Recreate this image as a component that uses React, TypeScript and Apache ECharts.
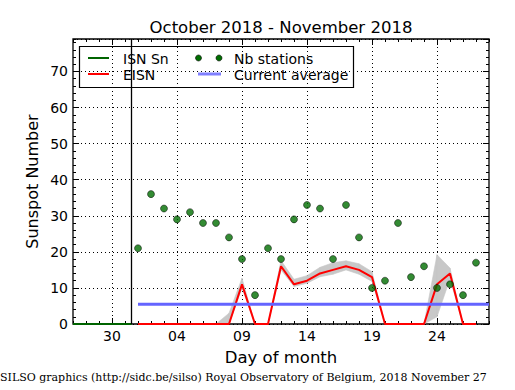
import React, { useEffect, useRef } from "react";
import * as echarts from "echarts";

// x values are day numbers counted from 1 October (Nov d -> 31 + d)
const OCT_LEN = 31;
const novDays = [1, 2, 3, 4, 5, 6, 7, 8, 9, 10, 11, 12, 13, 14, 15, 16, 17, 18, 19, 20, 21, 22, 23, 24, 25, 26, 27];
const nbStations = [21, 36, 32, 29, 31, 28, 28, 24, 18, 8, 21, 18, 29, 33, 32, 18, 33, 24, 10, 12, 28, 13, 16, 10, 11, 8, 17];
const eisn = [0, 0, 0, 0, 0, 0, 0, 0, 11, 0, 0, 16, 11, 12, 14, 15, 16, 15, 13, 0, 0, 0, 0, 11, 14, 0, 0];
const bandLow = [0, 0, 0, 0, 0, 0, 0, 0, 10, 0, 0, 15, 10.4, 11.3, 13.1, 13.8, 15, 13.8, 11.8, 0, 0, 0, 0, 2, 12.5, 0, 0];
const bandHigh = [0, 0, 0, 0, 0, 0, 0, 3, 12.7, 0, 0, 17.6, 12.4, 13.4, 15.7, 17, 17.5, 16.7, 14.5, 0, 0, 0, 0, 19.2, 15.5, 0, 0];
const isnX = [27, 28, 29, 30, 31, 31.5];
const isnVals = [0, 0, 0, 0, 0, 0];
const currentAverage = 5.5;
const avgRange = [32, 59];
const monthBoundary = 31.5;
const xMin = 27;
const xMax = 59;
const yMin = 0;
const yMax = 79;
const xTickValues = [30, 35, 40, 45, 50, 55];

const FONT = "DejaVu Sans";

export default function App() {
  const ref = useRef<HTMLDivElement>(null);
  useEffect(() => {
    if (!ref.current) return;
    const chart = echarts.init(ref.current, undefined, { renderer: "svg" });
    const xs = novDays.map((d) => OCT_LEN + d);
    const fmt = (v: number) => {
      const d = v > OCT_LEN ? v - OCT_LEN : v;
      return d < 10 ? "0" + d : String(d);
    };
    const bandSegments = xs.slice(0, -1).map((x, i) => [
      x,
      bandLow[i],
      bandHigh[i],
      xs[i + 1],
      bandLow[i + 1],
      bandHigh[i + 1],
    ]);
    const gridLine = { show: true, lineStyle: { color: "#000", width: 1, type: [1, 3] } };
    const baseX = {
      type: "value",
      min: xMin,
      max: xMax,
      axisLine: { show: false, onZero: false },
      splitLine: { show: false },
      axisLabel: { show: false },
    };
    const baseY = {
      type: "value",
      min: yMin,
      max: yMax,
      axisLine: { show: false, onZero: false },
      splitLine: { show: false },
      axisLabel: { show: false },
    };
    const option: any = {
      animation: false,
      grid: {
        left: 73,
        right: 26,
        top: 39,
        bottom: 66,
        show: true,
        borderColor: "#000",
        borderWidth: 1.3,
        backgroundColor: "#fff",
      },
      xAxis: [
        {
          ...baseX,
          position: "bottom",
          axisTick: { show: true, inside: true, length: 6, customValues: xTickValues, lineStyle: { color: "#000" } },
          axisLabel: {
            show: true,
            customValues: xTickValues,
            formatter: (v: number) => fmt(v),
            color: "#000",
            fontFamily: FONT,
            fontSize: 14,
            margin: 5,
          },
          splitLine: gridLine,
        },
        {
          ...baseX,
          position: "bottom",
          interval: 1,
          axisTick: { show: true, inside: true, length: 3, lineStyle: { color: "#000" } },
        },
        {
          ...baseX,
          position: "top",
          axisTick: { show: true, inside: true, length: 6, customValues: xTickValues, lineStyle: { color: "#000" } },
        },
        {
          ...baseX,
          position: "top",
          interval: 1,
          axisTick: { show: true, inside: true, length: 3, lineStyle: { color: "#000" } },
        },
      ],
      yAxis: [
        {
          ...baseY,
          position: "left",
          interval: 10,
          axisTick: { show: true, inside: true, length: 6, lineStyle: { color: "#000" } },
          axisLabel: {
            show: true,
            showMaxLabel: false,
            color: "#000",
            fontFamily: FONT,
            fontSize: 14,
            margin: 5,
          },
          splitLine: gridLine,
        },
        {
          ...baseY,
          position: "left",
          interval: 2,
          axisTick: { show: true, inside: true, length: 3, lineStyle: { color: "#000" } },
        },
        {
          ...baseY,
          position: "right",
          interval: 10,
          axisTick: { show: true, inside: true, length: 6, lineStyle: { color: "#000" } },
        },
        {
          ...baseY,
          position: "right",
          interval: 2,
          axisTick: { show: true, inside: true, length: 3, lineStyle: { color: "#000" } },
        },
      ],
      series: [
        {
          name: "band",
          type: "custom",
          silent: true,
          clip: true,
          z: 2,
          dimensions: ["x0", "lo0", "hi0", "x1", "lo1", "hi1"],
          encode: { x: [0, 3], y: [1, 2, 4, 5] },
          data: bandSegments,
          renderItem: (params: any, api: any) => {
            const x0 = api.value(0);
            const x1 = api.value(3);
            const pts = [
              api.coord([x0, api.value(1)]),
              api.coord([x1, api.value(4)]),
              api.coord([x1, api.value(5)]),
              api.coord([x0, api.value(2)]),
            ];
            return {
              type: "polygon",
              shape: { points: pts },
              style: { fill: "#c8c8c8", stroke: "#c8c8c8", lineWidth: 0.6 },
            };
          },
        },
        {
          name: "ISN Sn",
          type: "line",
          symbol: "none",
          lineStyle: { color: "#006400", width: 2 },
          data: isnX.map((x, i) => [x, isnVals[i]]),
          z: 3,
        },
        {
          name: "EISN",
          type: "line",
          symbol: "none",
          lineStyle: { color: "#ff0000", width: 2 },
          data: xs.map((x, i) => [x, eisn[i]]),
          z: 4,
        },
        {
          name: "Current average",
          type: "line",
          symbol: "none",
          lineStyle: { color: "#6464ff", width: 3 },
          data: avgRange.map((x) => [x, currentAverage]),
          z: 5,
        },
        {
          name: "Nb stations",
          type: "scatter",
          symbol: "circle",
          symbolSize: 7,
          itemStyle: { color: "#006e00", borderColor: "#000", borderWidth: 0.6 },
          data: xs.map((x, i) => [x, nbStations[i]]),
          z: 6,
        },
        {
          name: "boundary",
          type: "line",
          symbol: "none",
          lineStyle: { color: "#000", width: 1.3 },
          data: [
            [monthBoundary, yMin],
            [monthBoundary, yMax],
          ],
          z: 6,
          silent: true,
        },
      ],
      graphic: [
        {
          type: "text",
          style: {
            text: "October 2018 - November 2018",
            x: 281,
            y: 27,
            align: "center",
            verticalAlign: "middle",
            font: `16.5px "${FONT}"`,
            fill: "#000",
          },
        },
        {
          type: "text",
          style: {
            text: "Day of month",
            x: 281,
            y: 357,
            align: "center",
            verticalAlign: "middle",
            font: `16.5px "${FONT}"`,
            fill: "#000",
          },
        },
        {
          type: "text",
          x: 32.5,
          y: 181.5,
          rotation: Math.PI / 2,
          style: {
            text: "Sunspot Number",
            x: 0,
            y: 0,
            align: "center",
            verticalAlign: "middle",
            font: `16px "${FONT}"`,
            fill: "#000",
          },
        },
        {
          type: "text",
          style: {
            text: "SILSO graphics (http://sidc.be/silso) Royal Observatory of Belgium, 2018 November 27",
            x: 0,
            y: 377,
            align: "left",
            verticalAlign: "middle",
            font: `11px "DejaVu Serif"`,
            fill: "#000",
          },
        },
        {
          type: "group",
          z: 100,
          children: [
            {
              type: "rect",
              shape: { x: 79.5, y: 46.5, width: 274, height: 41 },
              style: { fill: "#fff", stroke: "#000", lineWidth: 1.2 },
            },
            {
              type: "line",
              shape: { x1: 88, y1: 58, x2: 109, y2: 58 },
              style: { stroke: "#006400", lineWidth: 2 },
            },
            {
              type: "text",
              style: { text: "ISN Sn", x: 123, y: 58.5, verticalAlign: "middle", font: `14px "${FONT}"`, fill: "#000" },
            },
            {
              type: "line",
              shape: { x1: 88, y1: 74, x2: 109, y2: 74 },
              style: { stroke: "#ff0000", lineWidth: 2 },
            },
            {
              type: "text",
              style: { text: "EISN", x: 123, y: 74.5, verticalAlign: "middle", font: `14px "${FONT}"`, fill: "#000" },
            },
            {
              type: "circle",
              shape: { cx: 198.5, cy: 58, r: 3 },
              style: { fill: "#006e00", stroke: "#000", lineWidth: 0.6 },
            },
            {
              type: "circle",
              shape: { cx: 219, cy: 58, r: 3 },
              style: { fill: "#006e00", stroke: "#000", lineWidth: 0.6 },
            },
            {
              type: "text",
              style: { text: "Nb stations", x: 234, y: 58.5, verticalAlign: "middle", font: `14px "${FONT}"`, fill: "#000" },
            },
            {
              type: "line",
              shape: { x1: 198, y1: 74, x2: 221, y2: 74 },
              style: { stroke: "#8080ff", lineWidth: 3 },
            },
            {
              type: "text",
              style: { text: "Current average", x: 234, y: 74.5, verticalAlign: "middle", font: `14px "${FONT}"`, fill: "#000" },
            },
          ],
        },
      ],
    };
    chart.setOption(option);
    return () => chart.dispose();
  }, []);
  return (
    <div
      ref={ref}
      style={{ position: "absolute", left: 0, top: 0, width: 515, height: 390, background: "#fff" }}
    />
  );
}
